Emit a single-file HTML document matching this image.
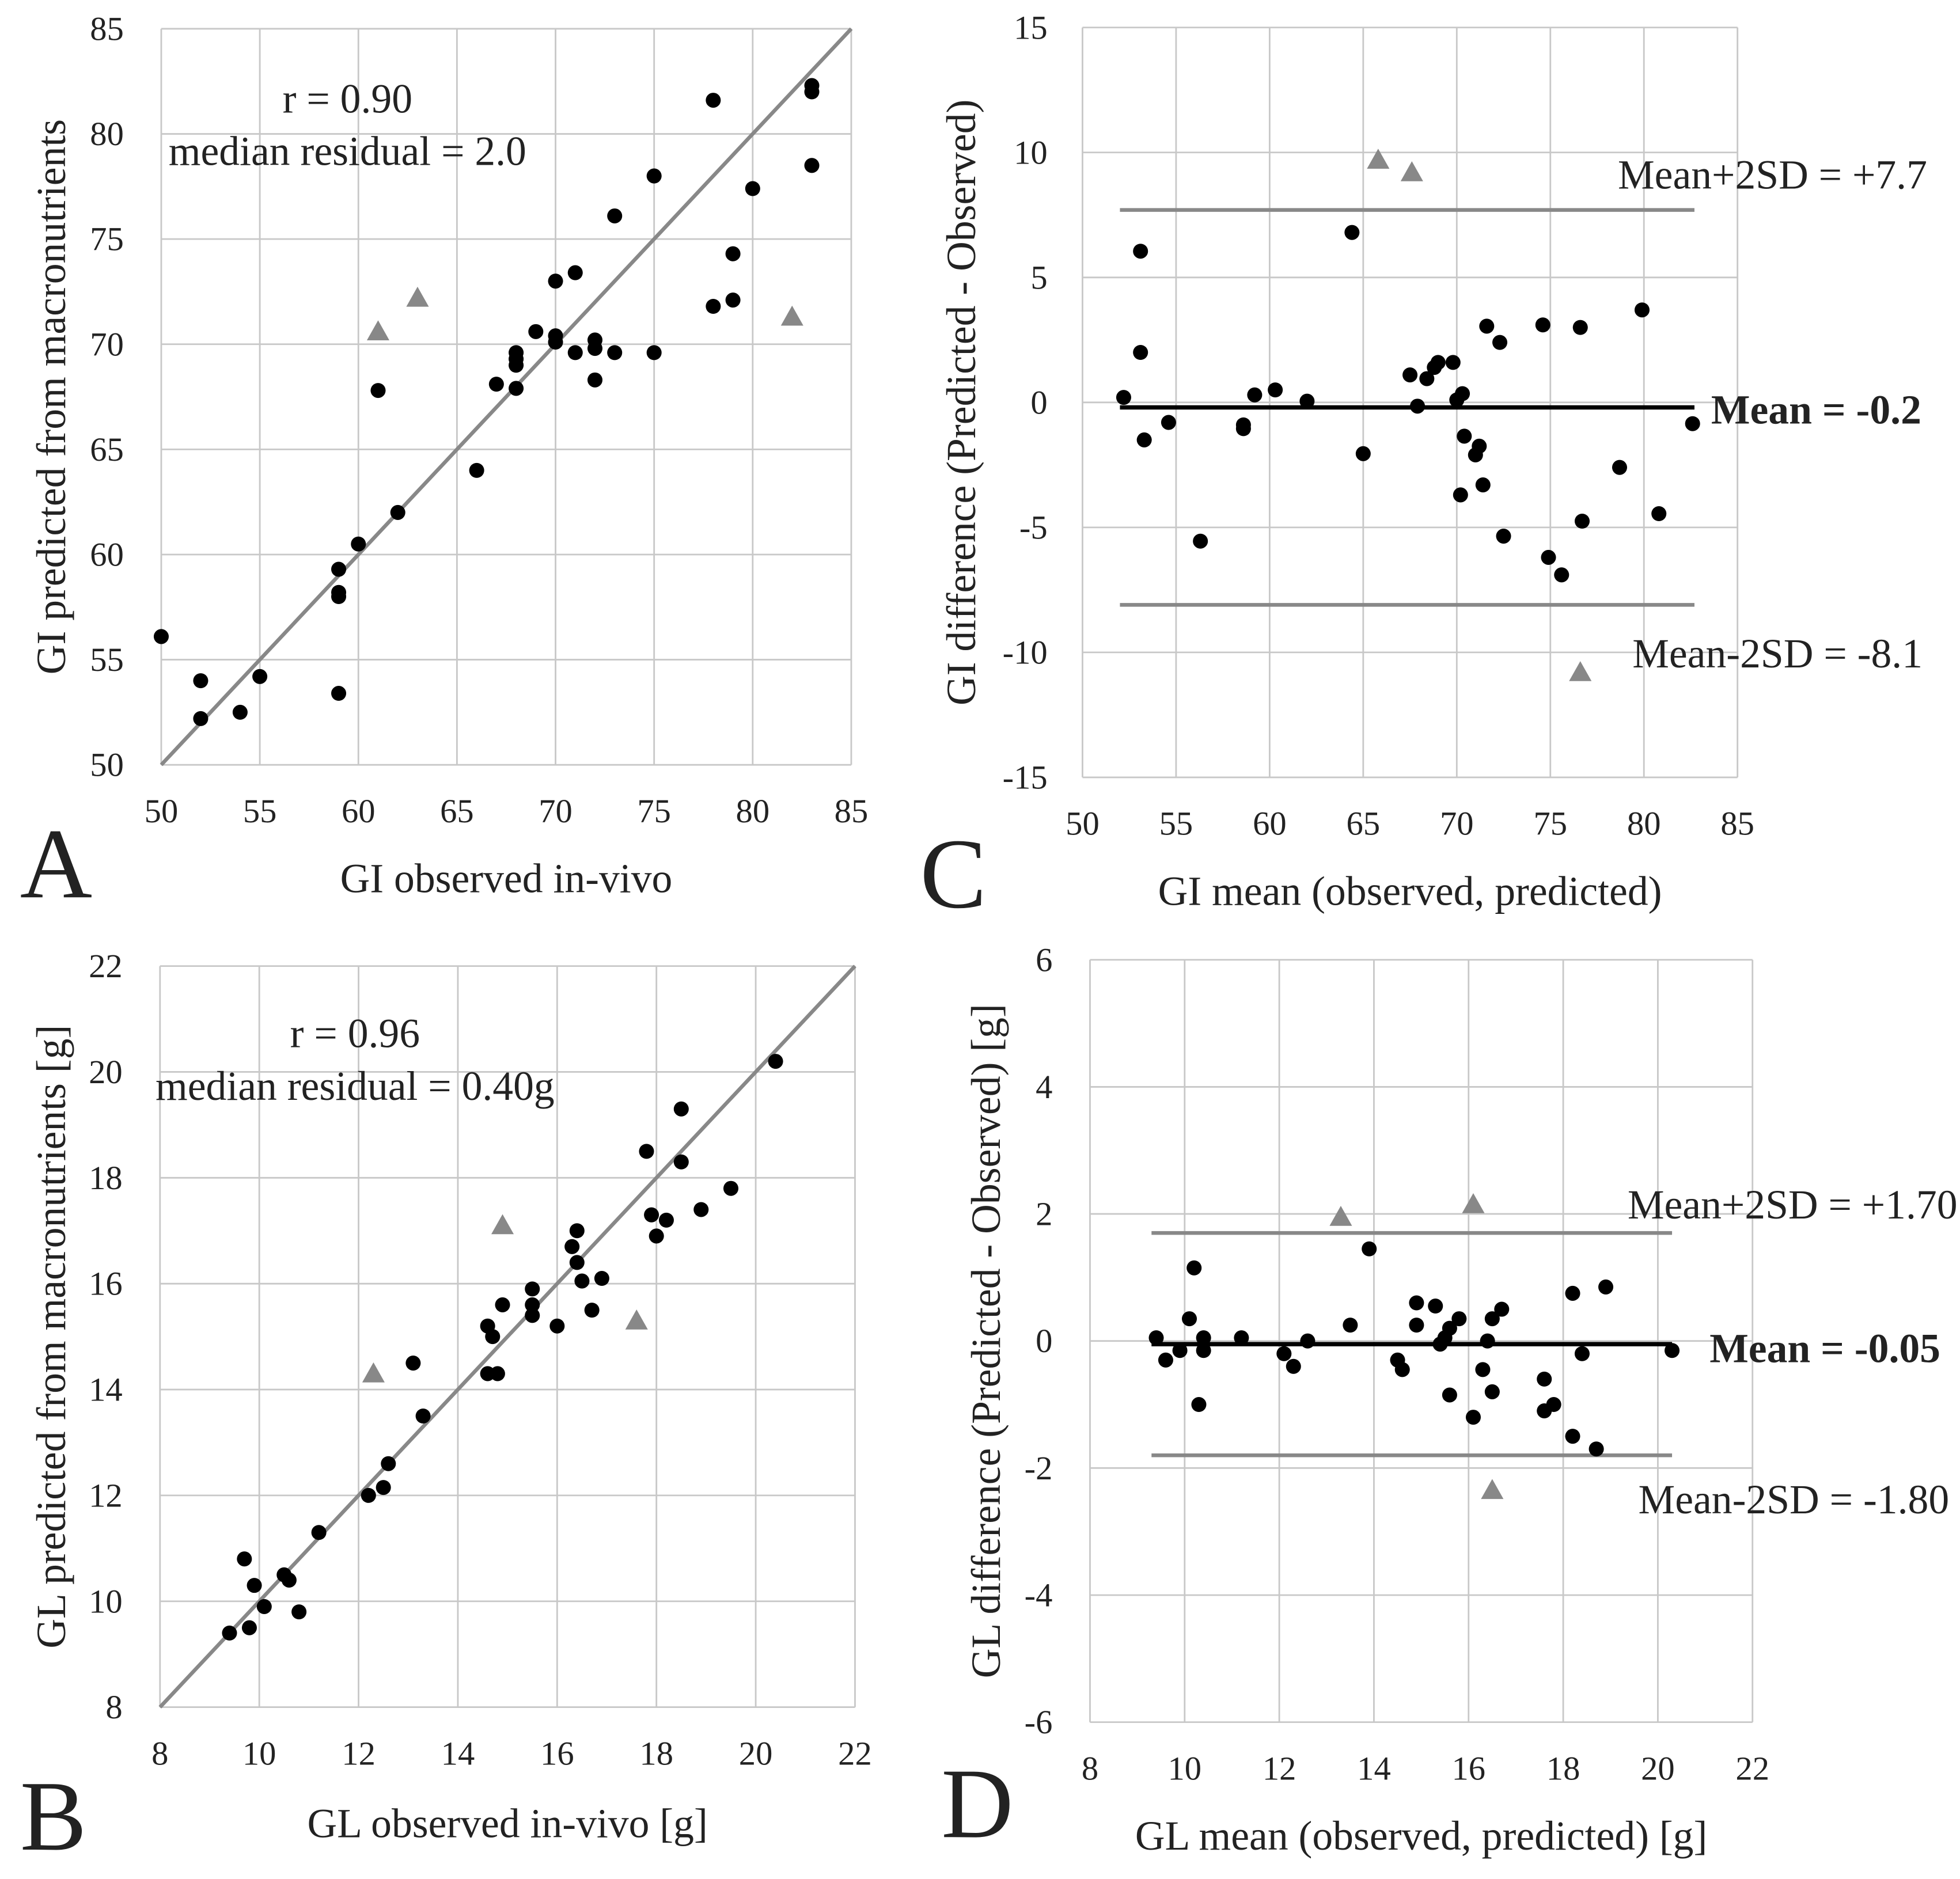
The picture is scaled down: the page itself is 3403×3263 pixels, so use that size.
<!DOCTYPE html>
<html><head><meta charset="utf-8"><style>
html,body{margin:0;padding:0;background:#fff}
svg{display:block}
text{font-family:"Liberation Serif",serif;fill:#222}
</style></head><body>
<svg id="fig" width="3403" height="3263" viewBox="0 0 1568 1503.5" xmlns="http://www.w3.org/2000/svg">
<g id="annot">
<text x="16" y="718" font-size="80">A</text>
<text x="16" y="1480" font-size="80">B</text>
<text x="736" y="726" font-size="80">C</text>
<text x="753" y="1470" font-size="80">D</text>
</g>
</svg>
<script>
// Panel A data
const aObsX=[50,52,52,54,55,59,59,59,59,60,61,62,66,67,68,68,68,68,69,70,70,70,71,71,72,72,72,73,73,75,75,78,78,79,79,80,83,83,83];
const aPredY=[56.1,54,52.2,52.5,54.2,53.4,58,58.2,59.3,60.5,67.8,62,64,68.1,67.9,69,69.3,69.6,70.6,70.1,70.4,73,69.6,73.4,68.3,69.8,70.2,69.6,76.1,78,69.6,81.6,71.8,74.3,72.1,77.4,82.3,82,78.5];
const aTriX=[61,63,82];
const aTriY=[70.6,72.2,71.3];
// Panel C data
const cMeanX=[52.2,53.1,53.1,53.3,54.6,56.3,58.6,58.6,59.2,60.3,62,64.4,65,67.5,67.9,68.4,68.8,69,69.8,70,70.3,70.2,70.4,71,71.2,71.4,71.6,72.3,72.5,74.6,74.9,75.6,76.6,76.7,78.7,79.9,80.8,82.6];
const cDiffY=[0.2,6.05,2.0,-1.5,-0.8,-5.55,-0.9,-1.05,0.3,0.5,0.05,6.8,-2.05,1.1,-0.15,0.95,1.4,1.6,1.6,0.1,0.35,-3.7,-1.35,-2.1,-1.75,-3.3,3.05,2.4,-5.35,3.1,-6.2,-6.9,3.0,-4.75,-2.6,3.7,-4.45,-0.85];
const cTriX=[65.8,67.6,76.6];
const cTriY=[9.7,9.2,-10.8];
const cLines=[-0.2,7.7,-8.1];
// Panel B data
const bObsX=[9.4,9.7,9.8,9.9,10.1,10.5,10.6,10.8,11.2,12.2,12.5,12.6,13.1,13.3,14.6,14.6,14.7,14.8,14.9,15.5,15.5,15.5,16,16.3,16.4,16.4,16.5,16.7,16.9,17.8,17.9,18,18.2,18.5,18.5,18.9,19.5,20.4];
const bPredY=[9.4,10.8,9.5,10.3,9.9,10.5,10.4,9.8,11.3,12,12.15,12.6,14.5,13.5,15.2,14.3,15,14.3,15.6,15.4,15.6,15.9,15.2,16.7,16.4,17,16.05,15.5,16.1,18.5,17.3,16.9,17.2,19.3,18.3,17.4,17.8,20.2];
const bTriX=[12.3,14.9,17.6];
const bTriY=[14.3,17.1,15.3];
// Panel D data
const dMeanX=[9.4,9.6,9.9,10.1,10.2,10.3,10.4,10.4,11.2,12.1,12.3,12.6,13.5,13.9,14.5,14.6,14.9,14.9,15.3,15.4,15.5,15.6,15.6,15.8,16.1,16.3,16.4,16.5,16.5,16.7,17.6,17.6,17.8,18.2,18.2,18.4,18.7,18.9,20.3];
const dDiffY=[0.05,-0.3,-0.15,0.35,1.15,-1.0,0.05,-0.15,0.05,-0.2,-0.4,0,0.25,1.45,-0.3,-0.45,0.25,0.6,0.55,-0.05,0.05,0.2,-0.85,0.35,-1.2,-0.45,0,-0.8,0.35,0.5,-0.6,-1.1,-1.0,-1.5,0.75,-0.2,-1.7,0.85,-0.15];
const dTriX=[13.3,16.1,16.5];
const dTriY=[1.95,2.15,-2.35];
const dLines=[-0.05,1.7,-1.8];

const NS="http://www.w3.org/2000/svg";
const svg=document.getElementById('fig');
function mk(tag,attrs,parent){const e=document.createElementNS(NS,tag);for(const k in attrs)e.setAttribute(k,attrs[k]);(parent||svg).appendChild(e);return e;}

function panel(p){
  const g=mk('g',{});
  
  
  const sx=v=>p.x0+(v-p.xmin)/(p.xmax-p.xmin)*(p.x1-p.x0);
  const sy=v=>p.y0-(v-p.ymin)/(p.ymax-p.ymin)*(p.y0-p.y1);
  for(let v=p.xmin;v<=p.xmax+1e-9;v+=p.xstep){
    const l=mk('line',{x1:sx(v),x2:sx(v),y1:p.y1,y2:p.y0,stroke:'#c8c8c8','stroke-width':1.3},g);
    
    
    const t=mk('text',{x:sx(v),y:p.y0+(p.xlabOff||46),'font-size':27,'text-anchor':'middle'},g);
    t.textContent=v;
    
    
  }
  for(let v=p.ymin;v<=p.ymax+1e-9;v+=p.ystep){
    const l=mk('line',{x1:p.x0,x2:p.x1,y1:sy(v),y2:sy(v),stroke:'#c8c8c8','stroke-width':1.3},g);
    
    
    const t=mk('text',{x:p.x0-p.ylabOff,y:sy(v)+9,'font-size':27,'text-anchor':'end'},g);
    t.textContent=v;
    
    
  }
  if(p.identity){
    const l=mk('line',{x1:sx(p.xmin),y1:sy(p.ymin),x2:sx(p.xmax),y2:sy(p.ymax),stroke:'#888','stroke-width':3},g);
    
    
  }
  if(p.lines){
    p.lines.forEach((v,i)=>{
      const l=mk('line',{x1:sx(p.lx0),x2:sx(p.lx1),y1:sy(v),y2:sy(v),stroke:i==0?'#000':'#888','stroke-width':i==0?3.5:3},g);
      
      
    });
  }
  p.xs.forEach((x,i)=>{
    const c=mk('circle',{cx:sx(x),cy:sy(p.ys[i]),r:6,fill:'#000'},g);
    
    
  });
  p.tx.forEach((x,i)=>{
    const cx=sx(x),cy=sy(p.ty[i]);
    const t=mk('polygon',{points:`${cx},${cy-9} ${cx-9},${cy+7} ${cx+9},${cy+7}`,fill:'#888'},g);
    
    
  });
  const xt=mk('text',{x:(p.x0+p.x1)/2,y:p.xtitleY,'font-size':33,'text-anchor':'middle'},g);
  xt.textContent=p.xtitle;
  
  
  const yt=mk('text',{x:0,y:0,'font-size':33,'text-anchor':'middle',transform:`translate(${p.ytitleX},${(p.y0+p.y1)/2}) rotate(-90)`},g);
  yt.textContent=p.ytitle;
  
  
  (p.notes||[]).forEach(n=>{
    const t=mk('text',{x:n.x,y:n.y,'font-size':33,'text-anchor':n.a||'middle','font-weight':n.b?'bold':'normal'},g);
    t.textContent=n.t;
    
    
  });
}

panel({name:'panel-a-scatter',x0:129,x1:681,y0:612,y1:23,xmin:50,xmax:85,xstep:5,ymin:50,ymax:85,ystep:5,ylabOff:30,
 xs:aObsX,ys:aPredY,tx:aTriX,ty:aTriY,identity:true,xtitle:'GI observed in-vivo',xtitleY:714,ytitle:'GI predicted from macronutrients',ytitleX:52,
 notes:[{x:278,y:90,t:'r = 0.90',name:'r-annotation'},{x:278,y:132,t:'median residual = 2.0',name:'median-residual-annotation'}]});
panel({name:'panel-c-bland-altman',x0:866,x1:1390,y0:622,y1:22,xmin:50,xmax:85,xstep:5,ymin:-15,ymax:15,ystep:5,ylabOff:28,
 xs:cMeanX,ys:cDiffY,tx:cTriX,ty:cTriY,lines:cLines,lx0:52,lx1:82.7,xtitle:'GI mean (observed, predicted)',xtitleY:724,ytitle:'GI difference (Predicted - Observed)',ytitleX:780,
 notes:[{x:1418,y:151,t:'Mean+2SD = +7.7',name:'upper-limit-label'},{x:1453,y:339,t:'Mean = -0.2',name:'mean-label',b:true},{x:1422,y:534,t:'Mean-2SD = -8.1',name:'lower-limit-label'}]});
panel({name:'panel-b-scatter',x0:128,x1:684,y0:1366,y1:773,xmin:8,xmax:22,xstep:2,ymin:8,ymax:22,ystep:2,ylabOff:30,
 xs:bObsX,ys:bPredY,tx:bTriX,ty:bTriY,identity:true,xtitle:'GL observed in-vivo [g]',xtitleY:1470,ytitle:'GL predicted from macronutrients [g]',ytitleX:52,
 notes:[{x:284,y:838,t:'r = 0.96',name:'r-annotation'},{x:284,y:880,t:'median residual = 0.40g',name:'median-residual-annotation'}]});
panel({name:'panel-d-bland-altman',x0:872,x1:1402,y0:1378,y1:768,xmin:8,xmax:22,xstep:2,ymin:-6,ymax:6,ystep:2,ylabOff:30,
 xs:dMeanX,ys:dDiffY,tx:dTriX,ty:dTriY,lines:dLines,lx0:9.3,lx1:20.3,xtitle:'GL mean (observed, predicted) [g]',xtitleY:1480,ytitle:'GL difference (Predicted - Observed) [g]',ytitleX:800,
 notes:[{x:1434,y:975,t:'Mean+2SD = +1.70',name:'upper-limit-label'},{x:1460,y:1090,t:'Mean = -0.05',name:'mean-label',b:true},{x:1435,y:1211,t:'Mean-2SD = -1.80',name:'lower-limit-label'}]});
</script>
</body></html>
